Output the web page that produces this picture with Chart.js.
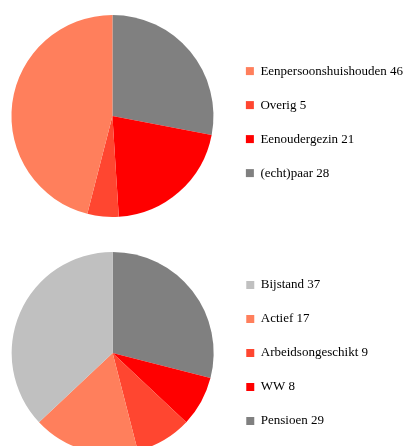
<!DOCTYPE html>
<html>
<head>
<meta charset="utf-8">
<script src="https://cdn.jsdelivr.net/npm/chart.js@4.4.1/dist/chart.umd.min.js"></script>
<style>
  html, body { margin: 0; padding: 0; background: #fff; overflow: hidden; }
  body { width: 413px; height: 446px; position: relative; }
  .box { position: absolute; left: 0; width: 413px; height: 232px; }
  #boxTop { top: 0; }
  #boxBottom { top: 237px; }
</style>
</head>
<body>
<div class="box" id="boxTop"><canvas id="huishoudens"></canvas></div>
<div class="box" id="boxBottom"><canvas id="inkomen"></canvas></div>
<script>
// slices listed clockwise from 12 o'clock; the legend shows them in reverse
const huishoudenLabels = ['(echt)paar', 'Eenoudergezin', 'Overig', 'Eenpersoonshuishouden'];
const huishoudenValues = [28, 21, 5, 46];
const huishoudenColors = ['#808080', '#ff0000', '#ff4630', '#ff7f5c'];

const inkomenLabels = ['Pensioen', 'WW', 'Arbeidsongeschikt', 'Actief', 'Bijstand'];
const inkomenValues = [29, 8, 9, 17, 37];
const inkomenColors = ['#808080', '#ff0000', '#ff4630', '#ff7f5c', '#c0c0c0'];

function maakPie(id, labels, values, colors, padRight, legendShift) {
  const ctx = document.getElementById(id).getContext('2d');
  return new Chart(ctx, {
    type: 'pie',
    data: {
      labels: labels.map((l, i) => l + ' ' + values[i]),
      datasets: [{ data: values, backgroundColor: colors, borderWidth: 0 }],
    },
    options: {
      responsive: true,
      maintainAspectRatio: false,
      animation: false,
      layout: { padding: { left: 0, top: 15, bottom: 15, right: padRight } },
      plugins: {
        tooltip: { enabled: false },
        legend: {
          position: 'right',
          reverse: true,
          // empty title only used to nudge the items down a little
          title: { display: legendShift > 0, text: ' ', font: { size: 1 }, padding: { top: 0, bottom: legendShift } },
          labels: {
            boxWidth: 8,
            boxHeight: 8,
            padding: 21,
            color: '#000',
            font: { family: "'Liberation Serif', 'Times New Roman', serif", size: 13 },
          },
        },
      },
    },
  });
}

maakPie('huishoudens', huishoudenLabels, huishoudenValues, huishoudenColors, 0, 11);
maakPie('inkomen', inkomenLabels, inkomenValues, inkomenColors, 35, 0);
</script>
</body>
</html>
